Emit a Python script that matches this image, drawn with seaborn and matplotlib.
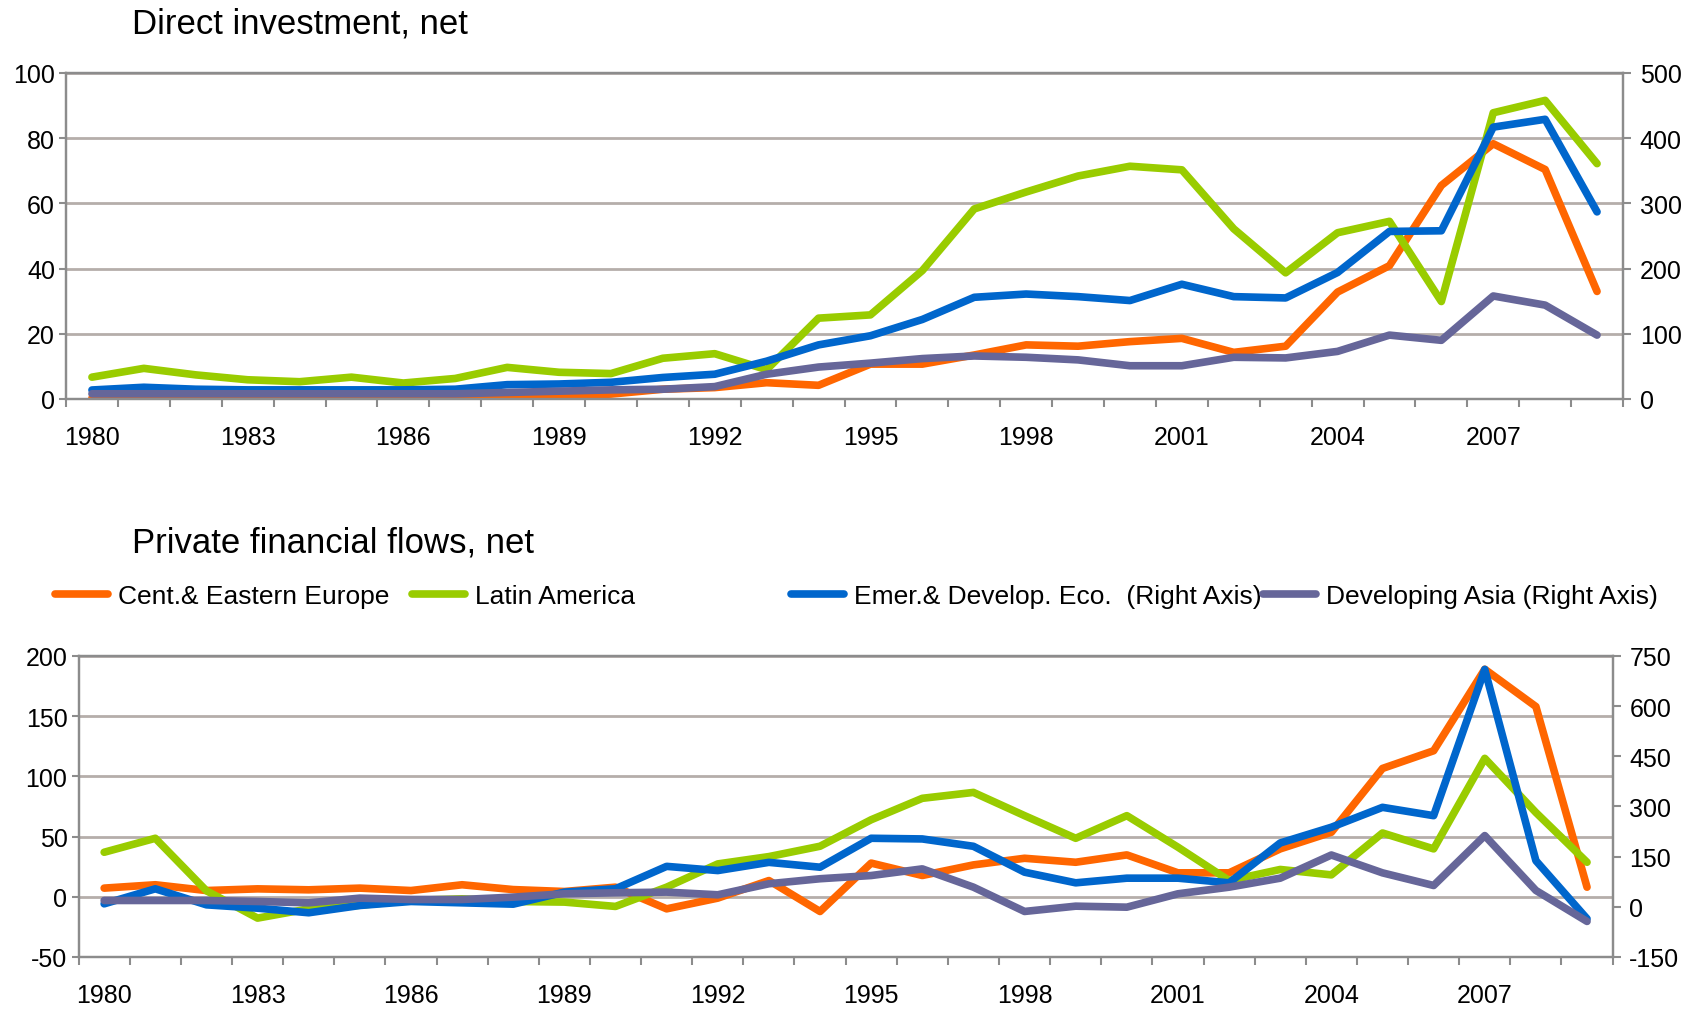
import numpy as np
import pandas as pd
import matplotlib
matplotlib.use("Agg")
import matplotlib.pyplot as plt
import seaborn as sns
from matplotlib.lines import Line2D

years = list(range(1980, 2010))

# Direct investment, net (left axis: CEE, Latin America; right axis: EMDE, Dev. Asia)
di_cee = [0.3, 0.3, 0.3, 0.3, 0.3, 0.3, 0.4, 0.5, 0.7, 1.0, 1.5, 3.0, 3.5, 5.0, 4.2,
          10.7, 10.7, 13.5, 16.6, 16.2, 17.6, 18.6, 14.3, 16.2, 32.8, 40.9, 65.5, 78.3, 70.4, 33.0]
di_latam = [6.7, 9.4, 7.4, 5.9, 5.3, 6.7, 4.9, 6.3, 9.7, 8.2, 7.8, 12.5, 13.9, 9.0, 24.8,
            25.8, 39.4, 58.3, 63.5, 68.4, 71.4, 70.3, 52.2, 38.7, 51.0, 54.5, 29.9, 87.8, 91.6, 72.2]
di_emde = [13.8, 18, 15, 14, 14, 14, 14, 15, 22, 23, 25.6, 33, 38, 58, 83,
           97, 122, 156, 161, 157, 151, 176, 157, 155, 194, 257, 258, 417, 429, 287]
di_asia = [8, 8, 8, 8, 8, 8, 8, 8, 10, 12, 14, 15, 19, 38, 49,
           55, 62, 66, 64, 60, 51, 51, 64, 63, 73, 98, 90, 158, 144, 98]

# Private financial flows, net
pf_cee = [7.2, 10, 5.2, 6.6, 5.8, 7.2, 5.2, 10, 6, 4.4, 8, -10, -1.1, 13.5, -12.2,
          28, 17.7, 26.5, 32, 28.7, 34.8, 19.9, 19.9, 39.8, 53.6, 106.6, 121.3, 189, 158, 8]
pf_latam = [37, 48.6, 5, -17.7, -10, -7, -3, -1.7, -3.9, -4.4, -8, 8, 27.3, 33.4, 42,
            64, 81.8, 86.7, 67.4, 48.6, 67.4, 41.2, 13.5, 22.7, 18.2, 53, 39.8, 115, 70, 28.7]
pf_emde = [9, 53.9, 6, -4, -17.7, 4, 16, 12, 8, 44, 54, 121, 108.5, 133, 118.5,
           205, 203, 181, 103.6, 71.8, 85.7, 85.7, 71.8, 191, 238, 297.5, 272.6, 710, 138, -35.6]
pf_asia = [19, 19, 19, 16, 12, 26, 22, 22, 29, 39, 42, 44, 36, 69, 84,
           93.6, 113.5, 58.8, -13.8, 2, -1, 39, 58.8, 85.7, 155, 101.6, 63.8, 213, 49, -43.6]

labels = ["Cent.& Eastern Europe", "Latin America",
          "Emer.& Develop. Eco.  (Right Axis)", "Developing Asia (Right Axis)"]
colors = ["#FF6600", "#99CC00", "#0066CC", "#666699"]

sns.set_style("white")
plt.rcParams['font.family'] = ['Liberation Sans', 'DejaVu Sans']
plt.rcParams['axes.unicode_minus'] = False
plt.rcParams['text.color'] = 'black'

LW = 5.5
GRAY = "#8C8C8C"
GRID = "#B5AEAA"
W, H = 1700, 1012

fig = plt.figure(figsize=(17, 10.12), dpi=100)
ax1 = fig.add_axes([66 / W, 1 - 400 / H, (1623 - 66) / W, (400 - 74) / H])
ax1r = ax1.twinx()
ax2 = fig.add_axes([78.6 / W, 1 - 958 / H, (1612.6 - 78.6) / W, (958 - 657) / H])
ax2r = ax2.twinx()


def draw(ax, axr, cee, la, em, asia):
    sns.lineplot(x=years, y=cee, ax=ax, color=colors[0], lw=LW)
    sns.lineplot(x=years, y=la, ax=ax, color=colors[1], lw=LW)
    sns.lineplot(x=years, y=em, ax=axr, color=colors[2], lw=LW)
    sns.lineplot(x=years, y=asia, ax=axr, color=colors[3], lw=LW)


draw(ax1, ax1r, di_cee, di_latam, di_emde, di_asia)
draw(ax2, ax2r, pf_cee, pf_latam, pf_emde, pf_asia)

ax1.set_ylim(0, 100)
ax1.set_yticks(range(0, 101, 20))
ax1r.set_ylim(0, 500)
ax1r.set_yticks(range(0, 501, 100))
ax2.set_ylim(-50, 200)
ax2.set_yticks(range(-50, 201, 50))
ax2r.set_ylim(-150, 750)
ax2r.set_yticks(range(-150, 751, 150))

for ax in (ax1, ax2, ax1r, ax2r):
    ax.set_xlim(1979.5, 2009.5)
    ax.set_xlabel("")
    ax.set_ylabel("")
    for s in ax.spines.values():
        s.set_color(GRAY)
        s.set_linewidth(1.6)

for ax in (ax1, ax2):
    ax.set_xticks(range(1980, 2010, 3))
    ax.set_xticks(np.arange(1979.5, 2010, 1), minor=True)
    ax.tick_params(axis='x', which='major', length=0, pad=19, labelsize=18, labelcolor='black')
    ax.tick_params(axis='x', which='minor', length=6, width=1.5, color=GRAY, direction='out', bottom=True)
    ax.tick_params(axis='y', length=5, width=1.5, color=GRAY, direction='out', pad=3,
                   labelsize=18, labelcolor='black', left=True)
    ax.grid(axis='y', color=GRID, lw=2)
    ax.set_axisbelow(True)

for ax in (ax1r, ax2r):
    ax.grid(False)
    ax.tick_params(axis='y', length=6, width=1.5, color=GRAY, direction='out', pad=6,
                   labelsize=18, labelcolor='black', right=True)

fig.text(132 / W, 1 - 33 / H, "Direct investment, net", fontsize=25, va='baseline', ha='left', color='black')
fig.text(132 / W, 1 - 553 / H, "Private financial flows, net", fontsize=25, va='baseline', ha='left', color='black')

leg_x = [55 / W, 412 / W, 791 / W, 1263 / W]
for lab, col, x in zip(labels, colors, leg_x):
    h = Line2D([], [], color=col, lw=LW)
    leg = fig.legend(handles=[h], labels=[lab], loc='center left', bbox_to_anchor=(x, 1 - 597 / H),
                     frameon=False, borderaxespad=0, borderpad=0, handlelength=2.0,
                     handletextpad=0.4, fontsize=19)
    for t in leg.get_texts():
        t.set_color('black')

fig.savefig("out.png", dpi=100)
